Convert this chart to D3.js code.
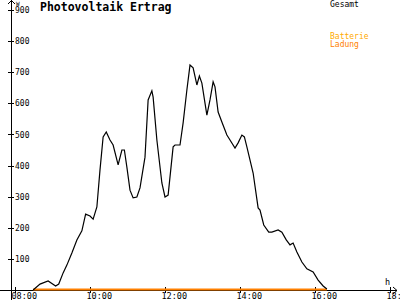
<!DOCTYPE html>
<html>
<head>
<meta charset="utf-8">
<script src="https://cdn.jsdelivr.net/npm/d3@7"></script>
<style>
  body { margin: 0; background: #fff; }
  text { font-family: "DejaVu Sans Mono", monospace; }
</style>
</head>
<body>
<div id="chart"></div>
<script>
var svgWidth = 400;
var svgHeight = 300;

// data
var times = ["08:29", "08:40", "08:53", "09:05", "09:10", "09:17", "09:23", "09:31", "09:39", "09:47",
  "09:53", "10:00", "10:05", "10:11", "10:16", "10:21", "10:26", "10:32", "10:37", "10:45",
  "10:51", "10:55", "10:59", "11:04", "11:09", "11:15", "11:20", "11:28", "11:33", "11:39",
  "11:41", "11:47", "11:55", "12:00", "12:05", "12:13", "12:16", "12:24", "12:29", "12:35",
  "12:40", "12:45", "12:51", "12:55", "12:59", "13:07", "13:12", "13:17", "13:20", "13:25",
  "13:31", "13:39", "13:44", "13:52", "13:57", "14:03", "14:07", "14:11", "14:21", "14:29",
  "14:32", "14:38", "14:46", "14:51", "15:01", "15:07", "15:14", "15:20", "15:25", "15:31",
  "15:39", "15:47", "15:57", "16:05", "16:13", "16:19"];
var gesamt = [0, 19, 29, 13, 19, 55, 80, 119, 161, 190,
  244, 238, 228, 267, 386, 492, 508, 482, 466, 402,
  450, 450, 395, 321, 296, 299, 328, 427, 611, 640,
  620, 482, 344, 299, 305, 460, 466, 466, 537, 643,
  723, 714, 659, 688, 665, 562, 611, 669, 653, 572,
  540, 498, 482, 456, 473, 498, 492, 460, 376, 264,
  257, 209, 186, 186, 193, 186, 161, 145, 151, 122,
  90, 68, 58, 32, 13, 3];
var ladung = times.map(function() { return 0; });

var xTickLabels = ["08:00", "10:00", "12:00", "14:00", "16:00", "18:00"];
var yTickValues = [100, 200, 300, 400, 500, 600, 700, 800, 900];

function toHours(s) {
  var p = s.split(":");
  return +p[0] + (+p[1]) / 60;
}

var svg = d3.select("#chart")
  .append("svg")
  .attr("width", svgWidth)
  .attr("height", svgHeight)
  .style("display", "block");

svg.append("rect")
  .attr("width", svgWidth)
  .attr("height", svgHeight)
  .attr("fill", "#fff");

var x = d3.scaleLinear().domain([8, 18]).range([15, 390]);
var y = d3.scaleLinear().domain([0, 900]).range([290, 10]);

// y axis with ticks on both sides, labels right of the line
var yAxisX = 11;
var yAxis = d3.axisRight(y)
  .tickValues(yTickValues)
  .tickSize(3)
  .tickPadding(1)
  .tickFormat(d3.format("d"));

var yG = svg.append("g")
  .attr("transform", `translate(${yAxisX},0)`)
  .call(yAxis);
yG.select(".domain").remove();
yG.selectAll(".tick line").attr("x1", -3).attr("shape-rendering", "crispEdges");
yG.selectAll(".tick text")
  .attr("font-size", 8)
  .attr("font-family", "DejaVu Sans Mono")
  .attr("fill", "#000");

svg.append("line")
  .attr("x1", yAxisX + 0.5).attr("x2", yAxisX + 0.5)
  .attr("y1", 0).attr("y2", 300)
  .attr("stroke", "#000")
  .attr("shape-rendering", "crispEdges");

// arrow on y axis
svg.append("path")
  .attr("d", `M${yAxisX - 3},4 L${yAxisX + 0.5},0.5 L${yAxisX + 4},4`)
  .attr("fill", "none")
  .attr("stroke", "#000");

svg.append("text")
  .attr("x", 16)
  .attr("y", 6)
  .attr("font-size", 6)
  .text("W");

// x axis
var xAxis = d3.axisBottom(x)
  .tickValues(xTickLabels.map(toHours))
  .tickSize(3)
  .tickFormat(function(d, i) { return xTickLabels[i]; });

var xG = svg.append("g")
  .attr("transform", "translate(0,290)")
  .call(xAxis);
xG.select(".domain").remove();
xG.selectAll(".tick line").attr("y1", -3).attr("shape-rendering", "crispEdges");
xG.selectAll(".tick text")
  .attr("font-size", 8.5)
  .attr("font-family", "DejaVu Sans Mono")
  .attr("fill", "#000")
  .attr("text-anchor", "start")
  .attr("dx", -4)
  .attr("dy", 0)
  .attr("y", 8.5);

svg.append("line")
  .attr("x1", 0).attr("x2", 397)
  .attr("y1", 290.5).attr("y2", 290.5)
  .attr("stroke", "#000")
  .attr("shape-rendering", "crispEdges");

// arrow on x axis
svg.append("path")
  .attr("d", "M393,287 L397,290.5 L393,294")
  .attr("fill", "none")
  .attr("stroke", "#000");

svg.append("text")
  .attr("x", 385)
  .attr("y", 285)
  .attr("font-size", 8.5)
  .text("h");

// lines
var line = d3.line()
  .x(function(d) { return x(toHours(d.t)); })
  .y(function(d) { return y(d.v); });

svg.append("path")
  .datum(times.map(function(t, i) { return { t: t, v: ladung[i] }; }))
  .attr("d", line.y(function(d) { return y(d.v) - 0.5; }))
  .attr("fill", "none")
  .attr("stroke", "#ff8000")
  .attr("stroke-width", 2);

line.y(function(d) { return y(d.v); });
svg.append("path")
  .datum(times.map(function(t, i) { return { t: t, v: gesamt[i] }; }))
  .attr("d", line)
  .attr("fill", "none")
  .attr("stroke", "#000")
  .attr("stroke-width", 1.2);

// title and legend
svg.append("text")
  .attr("x", 40)
  .attr("y", 11)
  .attr("font-size", 11.5)
  .attr("font-weight", "bold")
  .text("Photovoltaik Ertrag");

svg.append("text")
  .attr("x", 330).attr("y", 7)
  .attr("font-size", 8)
  .attr("fill", "#000")
  .text("Gesamt");

svg.append("text")
  .attr("x", 330).attr("y", 39)
  .attr("font-size", 8)
  .attr("fill", "#ffaa00")
  .text("Batterie");

svg.append("text")
  .attr("x", 330).attr("y", 47)
  .attr("font-size", 8)
  .attr("fill", "#ff8000")
  .text("Ladung");
</script>
</body>
</html>
